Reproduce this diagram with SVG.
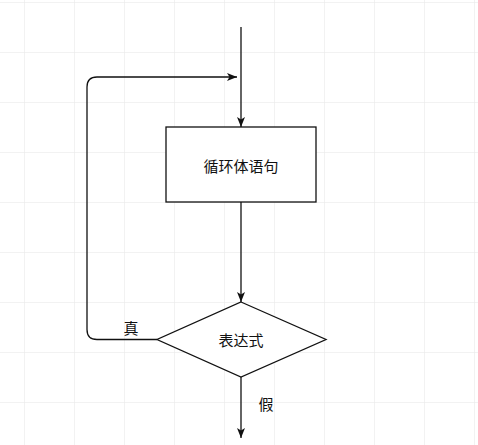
<svg xmlns="http://www.w3.org/2000/svg" width="478" height="445" viewBox="0 0 478 445">
<defs>
<pattern id="grid" x="24" y="2" width="50" height="50" patternUnits="userSpaceOnUse">
<path d="M0 0H50M0 0V50" fill="none" stroke="#e6e6e6" stroke-width="1"/>
</pattern>
<marker id="arr" viewBox="0 0 10 10" refX="10" refY="5" markerWidth="10" markerHeight="10" markerUnits="userSpaceOnUse" orient="auto">
<path d="M0 1 L10 5 L0 9 L2.5 5 Z" fill="#111"/>
</marker>
</defs>
<style>
.edge{fill:none;stroke:#111;stroke-width:1.3}
.shape{fill:#fff;stroke:#111;stroke-width:1.3}
.t{font-family:"Noto Sans CJK SC","Noto Sans",sans-serif;font-size:15px;fill:#111;text-anchor:middle;dominant-baseline:central}
</style>
<rect width="478" height="445" fill="#fff"/>
<rect width="478" height="445" fill="url(#grid)"/>
<g id="connectors">
<path class="edge" d="M241 27V127" marker-end="url(#arr)"/>
<path class="edge" d="M241 202V302" marker-end="url(#arr)"/>
<path class="edge" d="M241 377V438" marker-end="url(#arr)"/>
<path class="edge" d="M157 339.5H97Q87 339.5 87 329.5V87Q87 77 97 77H237" marker-end="url(#arr)"/>
<text class="t" x="131" y="327">真</text>
<text class="t" x="266" y="403">假</text>
</g>
<g id="body">
<rect class="shape" x="166" y="127" width="150" height="75"/>
<text class="t" x="241" y="165">循环体语句</text>
</g>
<g id="cond">
<path class="shape" d="M241 302L326 339.5L241 377L157 339.5Z"/>
<text class="t" x="241" y="339.5">表达式</text>
</g>
</svg>
